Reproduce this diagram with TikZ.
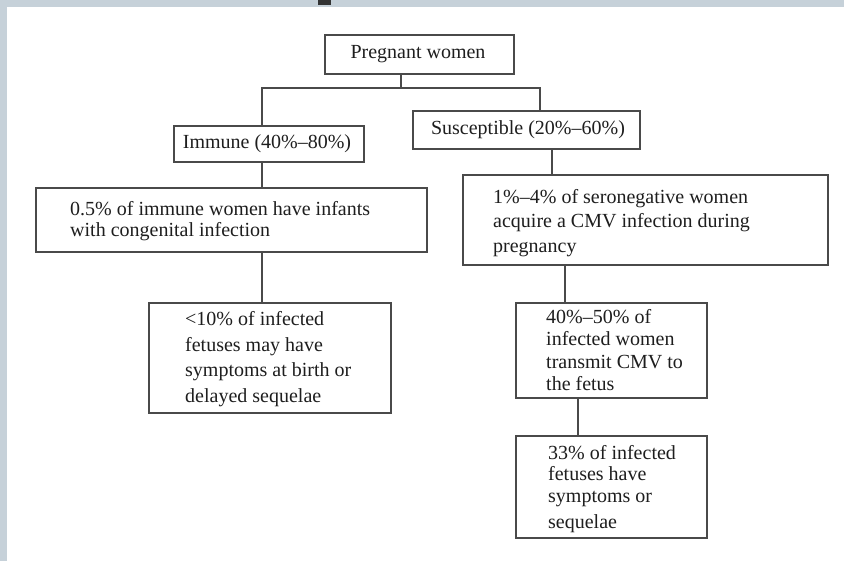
\documentclass[tikz,border=0pt]{standalone}
\usepackage{fontspec}
\setmainfont{Liberation Serif}
\definecolor{stripgray}{HTML}{C6D1D9}
\definecolor{linegray}{HTML}{4A4A4A}
\definecolor{inkgray}{HTML}{1E1E1E}
\tikzset{
  boxnode/.style={draw=linegray, line width=1.7pt, fill=white, inner sep=0pt},
  txt/.style={inner sep=0pt, align=left, text=inkgray},
  conn/.style={draw=linegray, line width=1.7pt}
}
\newcommand{\fs}[1]{\fontsize{20}{#1}\selectfont}
\begin{document}
\begin{tikzpicture}[x=1pt,y=-1pt]
\useasboundingbox (0,0) rectangle (844,561);
\fill[white] (0,0) rectangle (844,561);
\fill[stripgray] (0,0) rectangle (844,7);
\fill[stripgray] (0,0) rectangle (7,561);
\fill[black!80] (318,0) rectangle (331,5);

% boxes
\node[boxnode, minimum width=189pt, minimum height=39pt] (preg) at (419.5,54.5) {};
\node[boxnode, minimum width=190pt, minimum height=36pt] (imm) at (269,144) {};
\node[boxnode, minimum width=227pt, minimum height=38pt] (sus) at (526.5,130) {};
\node[boxnode, minimum width=391pt, minimum height=64pt] (half) at (231.5,220) {};
\node[boxnode, minimum width=365pt, minimum height=90pt] (one) at (645.5,220) {};
\node[boxnode, minimum width=242pt, minimum height=110pt] (lt) at (270,358) {};
\node[boxnode, minimum width=191pt, minimum height=95pt] (forty) at (611.5,350.5) {};
\node[boxnode, minimum width=191pt, minimum height=102pt] (third) at (611.5,487) {};

% texts
\node[txt, font=\fs{24}] (tpreg) at (418,54) {Pregnant women};
\node[txt, font=\fs{24}] (timm) at (267,144) {Immune (40\%–80\%)};
\node[txt, font=\fs{24}] (tsus) at (528,130) {Susceptible (20\%–60\%)};
\node[txt, font=\fs{21.5}, anchor=west] (thalf) at (70,221) {0.5\% of immune women have infants\\with congenital infection};
\node[txt, font=\fs{24.5}, anchor=west] (tone) at (493,223) {1\%–4\% of seronegative women\\acquire a CMV infection during\\pregnancy};
\node[txt, font=\fs{25.5}, anchor=west] (tlt) at (185,359) {<10\% of infected\\fetuses may have\\symptoms at birth or\\delayed sequelae};
\node[txt, font=\fs{22.5}, anchor=west] (tforty) at (546,350) {40\%–50\% of\\infected women\\transmit CMV to\\the fetus};
\node[txt, font=\fs{21.5}, anchor=west] (tthird) at (548,489) {33\% of infected\\fetuses have\\symptoms or\\[4.5pt]sequelae};

% junction coordinates
\coordinate (jm) at (401,88);
\coordinate (jl) at (262,88);
\coordinate (jr) at (540,88);
\coordinate (xl) at (262,0);
\coordinate (xs) at (552,0);
\coordinate (xo) at (565,0);
\coordinate (xf) at (578,0);

% connectors
\draw[conn] (preg.south -| jm) -- (jm);
\draw[conn] (imm.north -| jl) -- (jl) -- (jr) -- (sus.north -| jr);
\draw[conn] (imm.south -| xl) -- (half.north -| xl);
\draw[conn] (half.south -| xl) -- (lt.north -| xl);
\draw[conn] (sus.south -| xs) -- (one.north -| xs);
\draw[conn] (one.south -| xo) -- (forty.north -| xo);
\draw[conn] (forty.south -| xf) -- (third.north -| xf);
\end{tikzpicture}
\end{document}
